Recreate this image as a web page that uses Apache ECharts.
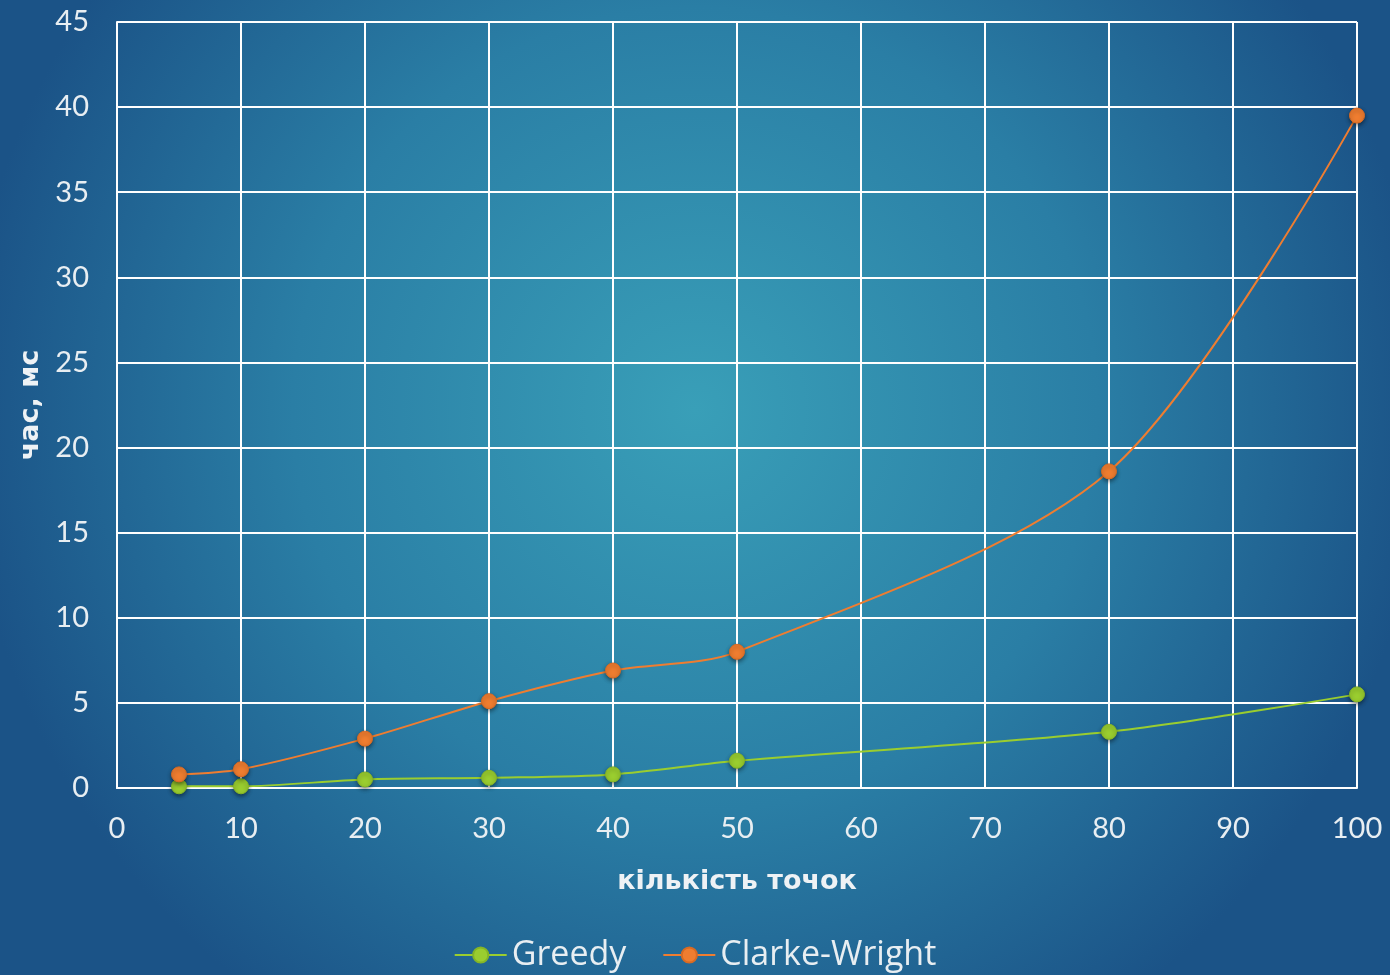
<!DOCTYPE html>
<html><head><meta charset="utf-8">
<script src="https://cdn.jsdelivr.net/npm/echarts@6/dist/echarts.min.js"></script>
<style>html,body{margin:0;padding:0;}#c{width:1390px;height:975px;}</style>
</head><body><div id="c"></div>
<script>
const xPoints = [5, 10, 20, 30, 40, 50, 80, 100];
const greedy = [0.1, 0.1, 0.5, 0.6, 0.8, 1.6, 3.3, 5.5];
const clarkeWright = [0.8, 1.1, 2.9, 5.1, 6.9, 8.0, 18.6, 39.5];
const seriesNames = ['Greedy', 'Clarke-Wright'];
const xName = 'кількість точок';
const yName = 'час, мс';

const chart = echarts.init(document.getElementById('c'));
const font = 'Lato, "Open Sans", sans-serif';
const titleFont = '"DejaVu Sans", sans-serif';
const sym = {shadowBlur: 4, shadowColor: 'rgba(0,0,0,0.45)', shadowOffsetY: 2};
function mk(name, vals, color, border) {
  return {
    name: name, type: 'line', smooth: 0.3,
    data: xPoints.map((x, i) => [x, vals[i]]),
    symbol: 'circle', symbolSize: 15,
    lineStyle: {color: color, width: 2},
    itemStyle: Object.assign({color: color, borderColor: border, borderWidth: 1}, sym)
  };
}
chart.setOption({
  backgroundColor: {
    type: 'radial', x: 0.5, y: 0.42, r: 0.75,
    colorStops: [{offset: 0, color: '#399fb8'}, {offset: 0.55, color: '#2a7ea5'}, {offset: 1, color: '#1b5387'}]
  },
  animation: false,
  grid: {left: 117, right: 33, top: 22, bottom: 187},
  legend: {
    bottom: -2, left: 'center', itemWidth: 52, itemHeight: 19, itemGap: 36,
    textStyle: {color: '#e8eef2', fontSize: 34, fontFamily: '"Open Sans", Lato, sans-serif'},
    data: seriesNames
  },
  xAxis: {
    type: 'value', min: 0, max: 100, interval: 10,
    name: xName, nameLocation: 'middle', nameGap: 80,
    nameTextStyle: {color: '#eef2f5', fontSize: 27, fontWeight: 'bold', fontFamily: titleFont},
    axisLine: {show: true, lineStyle: {color: '#ffffff', width: 2}},
    axisTick: {show: false},
    axisLabel: {color: '#e8eef2', fontSize: 29, fontFamily: font, margin: 26},
    splitLine: {show: true, lineStyle: {color: '#ffffff', width: 2}}
  },
  yAxis: {
    type: 'value', min: 0, max: 45, interval: 5,
    name: yName, nameLocation: 'middle', nameGap: 70,
    nameTextStyle: {color: '#eef2f5', fontSize: 27, fontWeight: 'bold', fontFamily: titleFont},
    axisLine: {show: true, lineStyle: {color: '#ffffff', width: 2}},
    axisTick: {show: false},
    axisLabel: {color: '#e8eef2', fontSize: 29, fontFamily: font, margin: 28},
    splitLine: {show: true, lineStyle: {color: '#ffffff', width: 2}}
  },
  series: [
    mk(seriesNames[0], greedy, '#9acd2f', '#84b526'),
    mk(seriesNames[1], clarkeWright, '#ef7d30', '#d96a22')
  ]
});
</script></body></html>
